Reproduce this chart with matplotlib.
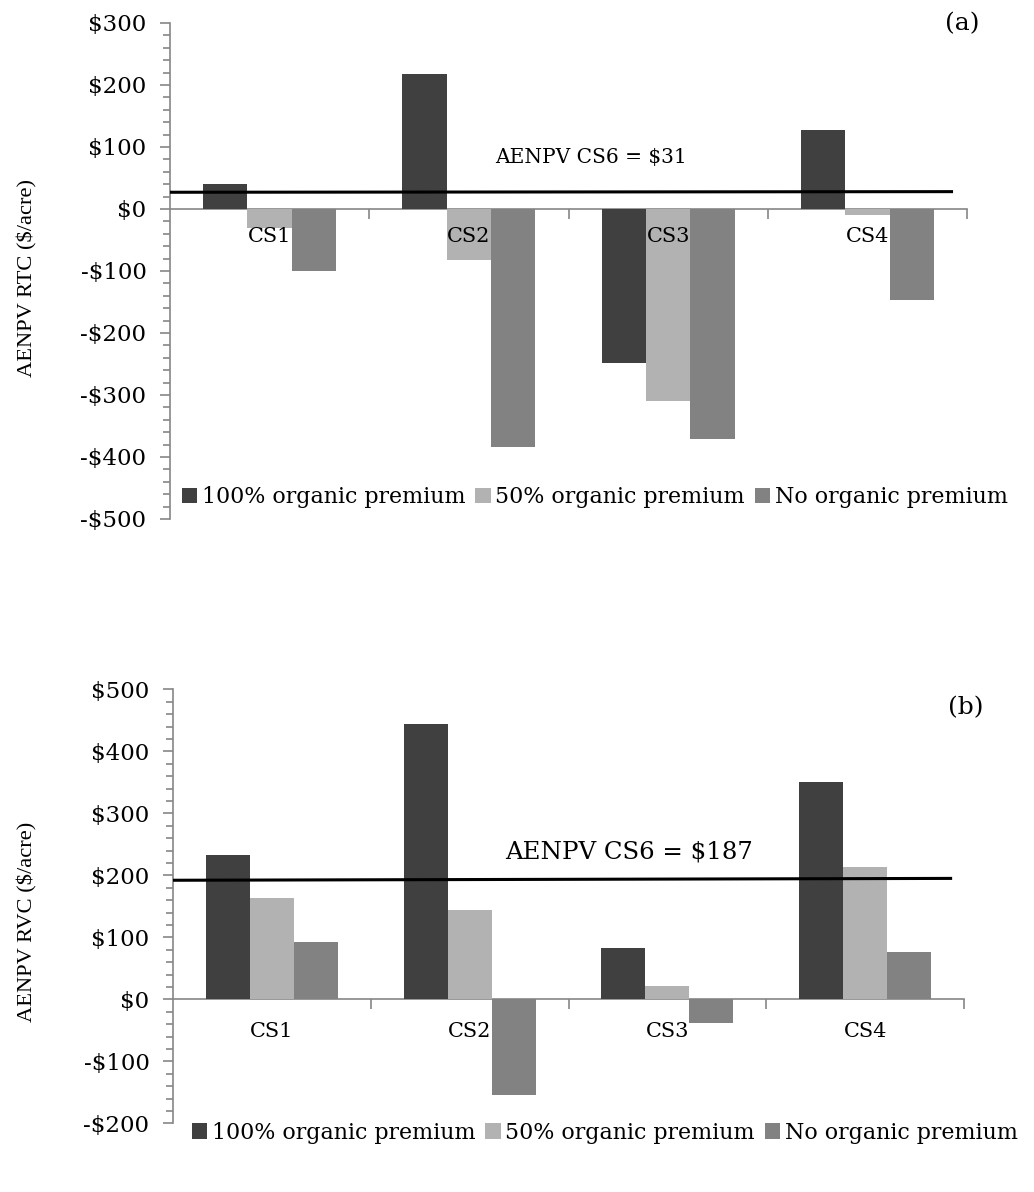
import numpy as np
import matplotlib
matplotlib.use("Agg")
import matplotlib.pyplot as plt
from matplotlib.ticker import MultipleLocator, FuncFormatter

plt.rcParams['font.family'] = ['DejaVu Serif']

categories = ["CS1", "CS2", "CS3", "CS4"]
series_names = ["100% organic premium", "50% organic premium", "No organic premium"]

# panel (a): AENPV RTC ($/acre)
rtc_full = [40, 217, -248, 127]
rtc_half = [-30, -83, -310, -10]
rtc_none = [-100, -384, -371, -147]
rtc_cs6_line = [27, 28]      # drawn line, left/right ends
rtc_cs6_label = "AENPV CS6 = $31"

# panel (b): AENPV RVC ($/acre)
rvc_full = [233, 444, 83, 351]
rvc_half = [163, 144, 22, 214]
rvc_none = [92, -155, -39, 76]
rvc_cs6_line = [192, 195]
rvc_cs6_label = "AENPV CS6 = $187"

colors = ["#404040", "#b2b2b2", "#828282"]
axis_gray = "#868686"

W, H = 1034, 1192
fig = plt.figure(figsize=(W / 100, H / 100), dpi=100)


def fx(px):
    return px / W


def fy(py):
    return 1 - py / H


def money(v, pos):
    v = int(round(v))
    return "-${}".format(-v) if v < 0 else "${}".format(v)


def draw_panel(ax, data, ylim, major, line_vals, line_end, label, label_xy, label_size,
               tag, tag_xy, leg_anchor, lab_pad):
    x = np.arange(len(categories))
    w = 1 / 4.5
    for i, vals in enumerate(data):
        ax.bar(x + (i - 1) * w, vals, w, color=colors[i], label=series_names[i], zorder=2)
    ax.set_xlim(-0.5, 3.5)
    ax.set_ylim(*ylim)
    ax.plot([-0.5, line_end], line_vals, color="black", lw=2.2, zorder=4, solid_capstyle="butt")
    for s in ["top", "right"]:
        ax.spines[s].set_visible(False)
    ax.spines["bottom"].set_position(("data", 0))
    for s in ["left", "bottom"]:
        ax.spines[s].set_color(axis_gray)
        ax.spines[s].set_linewidth(1.2)
        ax.spines[s].set_zorder(1)
    ax.xaxis.set_zorder(3)
    ax.yaxis.set_major_locator(MultipleLocator(major))
    ax.yaxis.set_minor_locator(MultipleLocator(major / 5))
    ax.yaxis.set_major_formatter(FuncFormatter(money))
    ax.tick_params(axis="y", which="major", length=7, width=1.2, color=axis_gray,
                   labelsize=16.5, pad=10)
    ax.tick_params(axis="y", which="minor", length=5, width=1.2, color=axis_gray)
    ax.set_xticks(x)
    ax.set_xticklabels(categories)
    ax.set_xticks([0.5, 1.5, 2.5, 3.5], minor=True)
    ax.tick_params(axis="x", which="major", length=0, labelsize=15, pad=lab_pad)
    ax.tick_params(axis="x", which="minor", length=7, width=1.2, color=axis_gray)
    ax.text(label_xy[0], label_xy[1], label, transform=fig.transFigure,
            fontsize=label_size, ha="left", va="center")
    ax.text(tag_xy[0], tag_xy[1], tag, transform=fig.transFigure,
            fontsize=18, ha="left", va="center")
    ax.legend(loc="center left", bbox_to_anchor=leg_anchor, ncol=3, frameon=False,
              fontsize=15.9, handlelength=0.7, handleheight=0.7, handletextpad=0.2,
              columnspacing=0.45, borderaxespad=0, borderpad=0)


ax1 = fig.add_axes([fx(170), fy(519), fx(967 - 170), (519 - 23) / H])
draw_panel(ax1, [rtc_full, rtc_half, rtc_none], (-500, 300), 100, rtc_cs6_line, 3.43,
           rtc_cs6_label, (fx(495), fy(157)), 14.5, "(a)", (fx(945), fy(24)),
           (0.015, 0.044), 13)
fig.text(fx(27), fy(278), "AENPV RTC ($/acre)", rotation=90, ha="center", va="center",
         fontsize=16.2, family="Liberation Serif")

ax2 = fig.add_axes([fx(173), fy(1123.3), fx(964 - 173), (1123.3 - 689.3) / H])
draw_panel(ax2, [rvc_full, rvc_half, rvc_none], (-200, 500), 100, rvc_cs6_line, 3.44,
           rvc_cs6_label, (fx(505), fy(852)), 17.6, "(b)", (fx(948), fy(708)),
           (0.024, -0.022), 16)
fig.text(fx(27), fy(922), "AENPV RVC ($/acre)", rotation=90, ha="center", va="center",
         fontsize=16.2, family="Liberation Serif")

fig.savefig("out.png", dpi=100)
